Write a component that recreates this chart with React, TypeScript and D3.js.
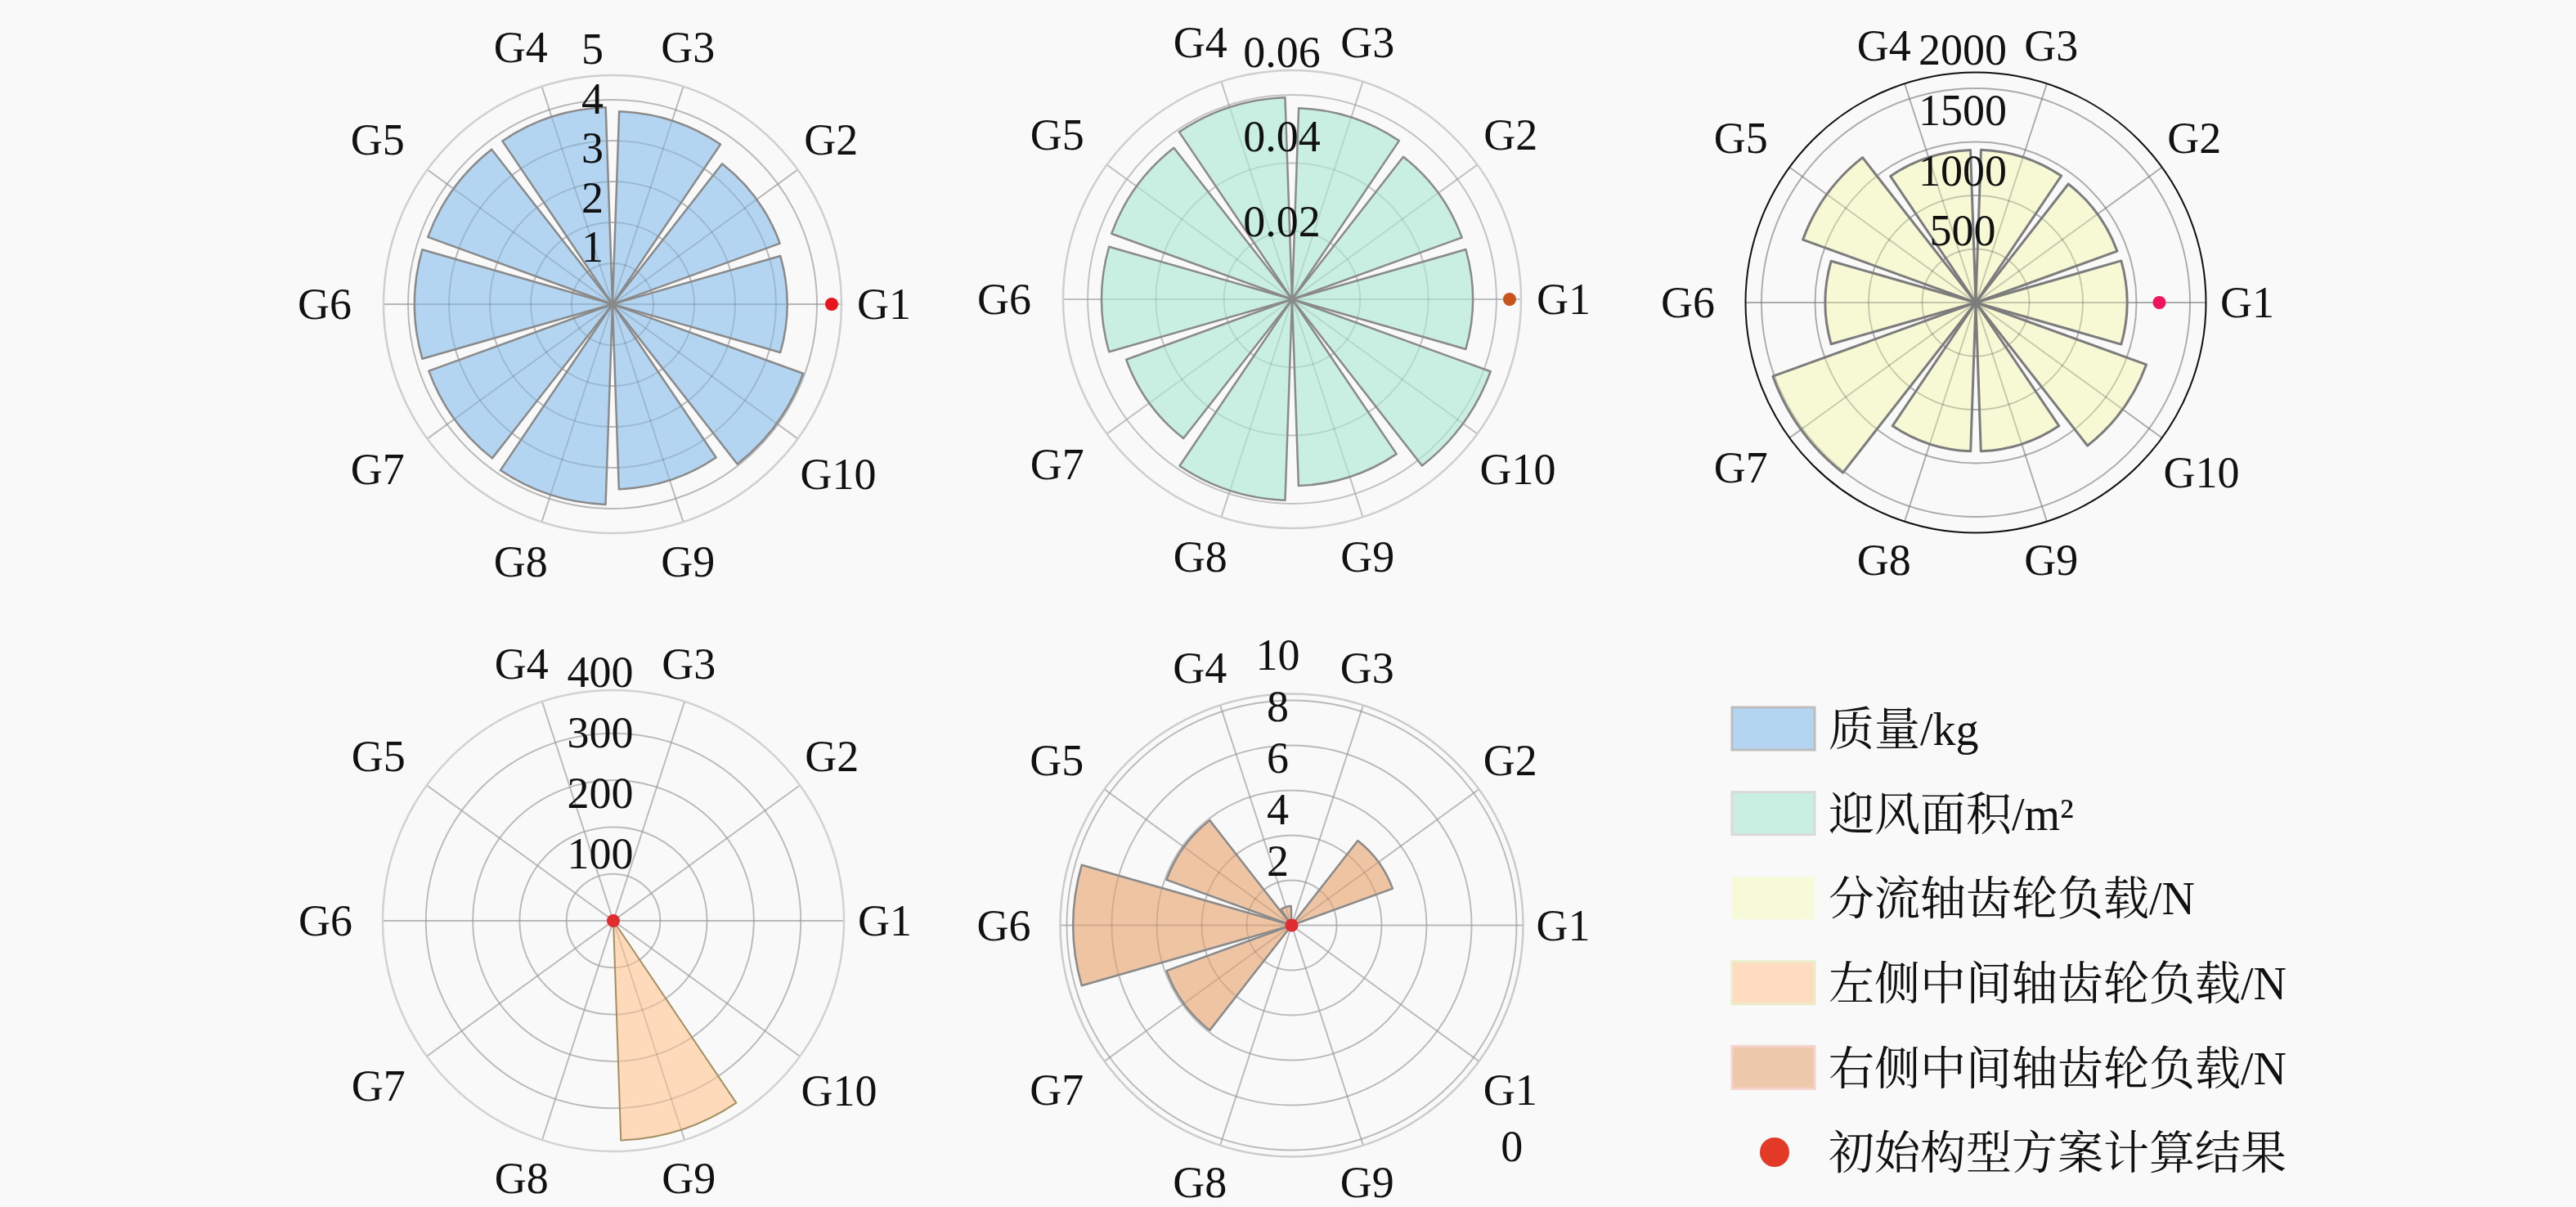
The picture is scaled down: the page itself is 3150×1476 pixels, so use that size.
import React, { useRef, useEffect } from 'react';
import * as d3 from 'd3';

const W = 3150;
const H = 1476;

const groups = ['G1', 'G2', 'G3', 'G4', 'G5', 'G6', 'G7', 'G8', 'G9', 'G10'];

// 质量/kg
const massValues = [3.53, 3.6, 3.9, 3.98, 3.97, 4.0, 3.95, 4.05, 3.74, 4.1];
const massTicks = [1, 2, 3, 4, 5];
// 迎风面积/m²
const areaValues = [0.0427, 0.0427, 0.0452, 0.0477, 0.0454, 0.045, 0.0417, 0.0475, 0.0441, 0.0499];
const areaTicks = [0.02, 0.04, 0.06];
// 分流轴齿轮负载/N
const splitValues = [1252, 1245, 1265, 1262, 1522, 1245, 1786, 1231, 1231, 1502];
const splitTicks = [500, 1000, 1500, 2000];
// 左侧中间轴齿轮负载/N
const leftValues = [0, 0, 0, 0, 0, 0, 0, 0, 363, 0];
const leftTicks = [100, 200, 300, 400];
// 右侧中间轴齿轮负载/N
const rightValues = [0, 4.17, 0, 0.75, 5.17, 8.48, 5.17, 0, 0, 0];
const rightTicks = [2, 4, 6, 8, 10];
// 初始构型方案计算结果, one point per chart, on G1
const initialValues = [4.43, 0.0514, 1519, 0, 0];

const legendLabels = [
  '质量/kg',
  '迎风面积/m²',
  '分流轴齿轮负载/N',
  '左侧中间轴齿轮负载/N',
  '右侧中间轴齿轮负载/N',
  '初始构型方案计算结果',
];

interface Panel {
  values: number[];
  ticks: number[];
  dot: number;
  format: (v: number) => string;
  cx: number;
  cy: number;
  topR: number;
  tickOffset: number;
  tickDx: number;
  ringStep: number;
  ringCount: number;
  outerR: number;
  outerColor: string;
  outerWidth: number;
  gridAlpha: number;
  fill: string;
  stroke: string;
  strokeWidth: number;
  dotColor: string;
  wrapLast?: boolean;
}

const plain = (v: number) => String(v);

const panels: Panel[] = [
  {
    values: massValues, ticks: massTicks, dot: initialValues[0], format: plain,
    cx: 749, cy: 372, topR: 302.5, tickOffset: 9.5, tickDx: -24.5,
    ringStep: 50, ringCount: 5, outerR: 280, outerColor: '#cfcfcf', outerWidth: 2.5, gridAlpha: 0.14,
    fill: '#b3d5f1', stroke: '#8a8a8a', strokeWidth: 2.5, dotColor: '#e8141c',
  },
  {
    values: areaValues, ticks: areaTicks, dot: initialValues[1], format: d3.format('.2f'),
    cx: 1580, cy: 366, topR: 310.5, tickOffset: -8, tickDx: -12.5,
    ringStep: 83.3, ringCount: 3, outerR: 280, outerColor: '#cfcfcf', outerWidth: 2.5, gridAlpha: 0.1,
    fill: '#c8efe2', stroke: '#8a8a8a', strokeWidth: 2.5, dotColor: '#c8541c',
  },
  {
    values: splitValues, ticks: splitTicks, dot: initialValues[2], format: plain,
    cx: 2416, cy: 370, topR: 295.6, tickOffset: 14, tickDx: -16,
    ringStep: 65.5, ringCount: 4, outerR: 281.5, outerColor: '#111111', outerWidth: 2, gridAlpha: 0.2,
    fill: '#f6f9d4', stroke: '#7c7c7c', strokeWidth: 3, dotColor: '#f0145a',
  },
  {
    values: leftValues, ticks: leftTicks, dot: initialValues[3], format: plain,
    cx: 750, cy: 1126, topR: 296, tickOffset: 8.5, tickDx: -16,
    ringStep: 57.3, ringCount: 4, outerR: 282, outerColor: '#d2d2d2', outerWidth: 2.5, gridAlpha: 0.13,
    fill: '#fedabb', stroke: '#a39062', strokeWidth: 2, dotColor: '#e02c30',
  },
  {
    values: rightValues, ticks: rightTicks, dot: initialValues[4], format: plain,
    cx: 1579.5, cy: 1131.5, topR: 315, tickOffset: 15.5, tickDx: -17,
    ringStep: 55, ringCount: 5, outerR: 283, outerColor: '#cccccc', outerWidth: 2.5, gridAlpha: 0.13,
    fill: '#eec4a3', stroke: '#8a8a8a', strokeWidth: 2.5, dotColor: '#e02c30', wrapLast: true,
  },
];

const legendStyles = [
  { fill: '#b3d5f1', stroke: '#bdbdbd' },
  { fill: '#c8efe2', stroke: '#d9d9d9' },
  { fill: '#f7fad8', stroke: 'none' },
  { fill: '#fedcc0', stroke: '#eaedc8' },
  { fill: '#eec8aa', stroke: '#f6d2cc' },
];

const latinFont = '"Liberation Serif", "Times New Roman", serif';
const legendFont = '"Liberation Serif", "Noto Serif CJK SC", "Noto Sans CJK SC", serif';
const fontSize = 54;

// angle of each group, counter-clockwise from the right, G1 at 0
const theta = d3.scaleLinear().domain([0, groups.length]).range([0, 2 * Math.PI]);

type Sel = d3.Selection<SVGSVGElement, unknown, null, undefined>;

const drawPanel = (svg: Sel, p: Panel) => {
  const g = svg.append('g').attr('transform', `translate(${p.cx},${p.cy})`);
  const r = d3.scaleLinear().domain([0, d3.max(p.ticks)!]).range([0, p.topR]);
  const half = (theta(1) - theta(0)) * 0.445;
  const rings = d3.range(1, p.ringCount + 1).map(i => i * p.ringStep);

  // background grid
  const grid = g.append('g').attr('fill', 'none').attr('stroke', '#d6d6d6').attr('stroke-width', 2);
  grid.selectAll('circle').data(rings).join('circle').attr('r', d => d);
  grid.selectAll('line').data(groups).join('line')
    .attr('x2', (_, i) => p.outerR * Math.cos(theta(i)))
    .attr('y2', (_, i) => -p.outerR * Math.sin(theta(i)));

  const arc = d3.arc<number>()
    .innerRadius(0)
    .outerRadius(i => r(p.values[i]))
    .startAngle(i => Math.PI / 2 - theta(i) - half)
    .endAngle(i => Math.PI / 2 - theta(i) + half);

  const idx = p.values.map((_, i) => i).filter(i => p.values[i] > 0);

  g.append('g').selectAll('path').data(idx).join('path')
    .attr('d', d => arc(d) as string)
    .attr('fill', p.fill)
    .attr('stroke', 'none');

  // grid showing through the bars
  const over = g.append('g').attr('fill', 'none').attr('stroke', '#000')
    .attr('stroke-opacity', p.gridAlpha).attr('stroke-width', 1.8);
  over.selectAll('circle').data(rings).join('circle').attr('r', d => d);
  over.selectAll('line').data(groups).join('line')
    .attr('x2', (_, i) => p.outerR * Math.cos(theta(i)))
    .attr('y2', (_, i) => -p.outerR * Math.sin(theta(i)));

  g.append('g').selectAll('path').data(idx).join('path')
    .attr('d', d => arc(d) as string)
    .attr('fill', 'none')
    .attr('stroke', p.stroke)
    .attr('stroke-width', p.strokeWidth)
    .attr('stroke-linejoin', 'round');

  g.append('circle').attr('r', p.outerR).attr('fill', 'none')
    .attr('stroke', p.outerColor).attr('stroke-width', p.outerWidth);

  g.append('circle')
    .attr('cx', r(p.dot) * Math.cos(theta(0)))
    .attr('cy', -r(p.dot) * Math.sin(theta(0)))
    .attr('r', 8)
    .attr('fill', p.dotColor);

  // radial tick labels
  g.append('g').selectAll('text').data(p.ticks).join('text')
    .attr('x', p.tickDx)
    .attr('y', d => -(r(d) + p.tickOffset))
    .attr('dy', '0.34em')
    .attr('text-anchor', 'middle')
    .attr('font-family', latinFont)
    .attr('font-size', fontSize)
    .attr('fill', '#111')
    .text(d => p.format(d));

  // group labels
  const labels = g.append('g')
    .attr('font-family', latinFont)
    .attr('font-size', fontSize)
    .attr('fill', '#111')
    .attr('text-anchor', 'middle');
  groups.forEach((name, i) => {
    const wrap = p.wrapLast && i === groups.length - 1;
    const first = wrap ? name.slice(0, 2) : name;
    const w = fontSize * (0.722 + 0.5 * (first.length - 1));
    const t = theta(i);
    const rad = 309 + (w / 2) * Math.abs(Math.cos(t)) + 12 * Math.abs(Math.sin(t));
    const x = rad * Math.cos(t) - 10;
    const y = -rad * Math.sin(t);
    const text = labels.append('text').attr('x', x).attr('y', y).attr('dy', '0.34em').text(first);
    if (wrap) {
      labels.append('text').attr('x', x + 2).attr('y', y + 68.7).attr('dy', '0.34em').text(name.slice(2));
    }
    return text;
  });
};

const drawLegend = (svg: Sel) => {
  const rowY = d3.scaleLinear().domain([0, legendLabels.length - 1]).range([891, 1409]);
  const g = svg.append('g');
  legendStyles.forEach((s, i) => {
    g.append('rect')
      .attr('x', 2118).attr('y', rowY(i) - 26)
      .attr('width', 101).attr('height', 52)
      .attr('fill', s.fill)
      .attr('stroke', s.stroke)
      .attr('stroke-width', 3);
  });
  g.append('circle')
    .attr('cx', 2170).attr('cy', rowY(legendLabels.length - 1))
    .attr('r', 18).attr('fill', '#e23a26');
  g.selectAll('text').data(legendLabels).join('text')
    .attr('x', 2236)
    .attr('y', (_, i) => rowY(i))
    .attr('dy', '0.36em')
    .attr('font-family', legendFont)
    .attr('font-size', 56)
    .attr('fill', '#111')
    .text(d => d);
};

const App: React.FC = () => {
  const svgRef = useRef<SVGSVGElement>(null);

  useEffect(() => {
    if (!svgRef.current) {
      return;
    }
    const svg = d3.select(svgRef.current);
    svg.selectAll('*').remove();
    svg.append('rect').attr('width', W).attr('height', H).attr('fill', '#f9f9f9');
    panels.forEach(p => drawPanel(svg, p));
    drawLegend(svg);
  }, []);

  return (
    <svg
      ref={svgRef}
      width={W}
      height={H}
      viewBox={`0 0 ${W} ${H}`}
      style={{ position: 'absolute', left: 0, top: 0 }}
    ></svg>
  );
};

export default App;
